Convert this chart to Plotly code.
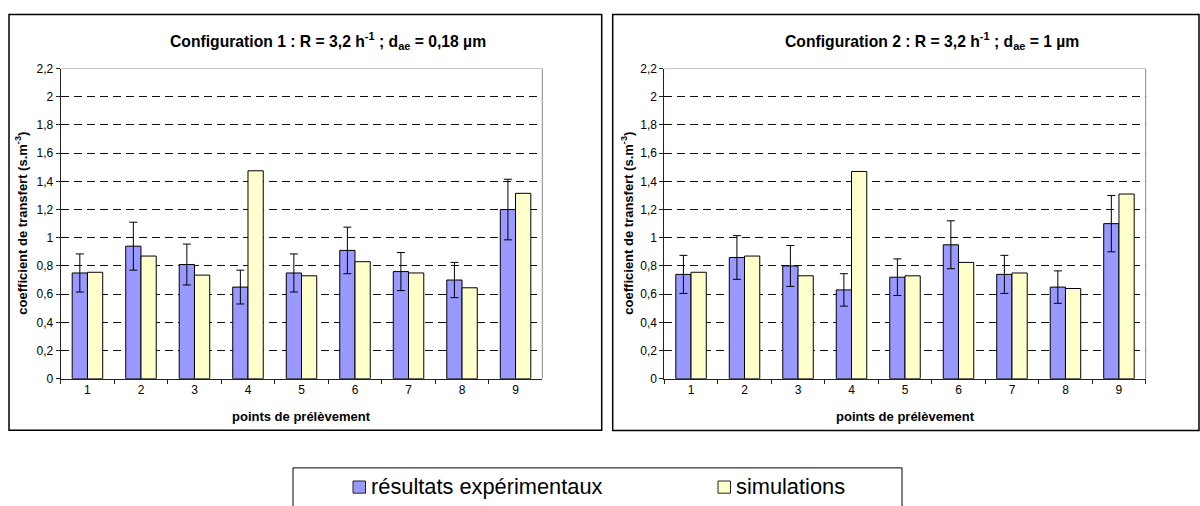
import plotly.graph_objects as go

# ---------------- data ----------------
categories = ["1", "2", "3", "4", "5", "6", "7", "8", "9"]

exp_c1 = [0.75, 0.94, 0.81, 0.65, 0.75, 0.91, 0.76, 0.70, 1.20]
err_c1 = [0.135, 0.17, 0.145, 0.12, 0.135, 0.165, 0.135, 0.125, 0.215]
sim_c1 = [0.755, 0.87, 0.735, 1.475, 0.73, 0.83, 0.75, 0.645, 1.315]

exp_c2 = [0.74, 0.86, 0.80, 0.63, 0.72, 0.95, 0.74, 0.65, 1.10]
err_c2 = [0.135, 0.155, 0.145, 0.115, 0.13, 0.17, 0.135, 0.115, 0.20]
sim_c2 = [0.755, 0.87, 0.73, 1.47, 0.73, 0.825, 0.75, 0.64, 1.31]

y_tickvals = [0, 0.2, 0.4, 0.6, 0.8, 1.0, 1.2, 1.4, 1.6, 1.8, 2.0, 2.2]
y_ticktext = ["0", "0,2", "0,4", "0,6", "0,8", "1", "1,2", "1,4", "1,6", "1,8", "2", "2,2"]

series_names = ["résultats expérimentaux", "simulations"]
series_colors = ["#9999FF", "#FFFFCC"]

titles = [
    "Configuration 1 : R = 3,2 h<sup>-1</sup> ; d<sub>ae</sub> = 0,18 µm",
    "Configuration 2 : R = 3,2 h<sup>-1</sup> ; d<sub>ae</sub> = 1 µm",
]
x_title = "points de prélèvement"
y_title = "coefficient de transfert (s.m<sup>-3</sup>)"

# ---------------- layout helpers ----------------
W, H = 1200, 506
FONT = "Arial, 'Liberation Sans', sans-serif"


def px(x):
    return x / W


def py(y):
    return 1 - y / H


fig = go.Figure()

panels = [
    dict(exp=exp_c1, err=err_c1, sim=sim_c1, xa="x", ya="y"),
    dict(exp=exp_c2, err=err_c2, sim=sim_c2, xa="x2", ya="y2"),
]

for i, p in enumerate(panels):
    fig.add_trace(go.Bar(
        x=categories, y=p["exp"], name=series_names[0],
        marker=dict(color=series_colors[0], line=dict(color="black", width=1)),
        error_y=dict(type="data", array=p["err"], visible=True,
                     color="black", thickness=1, width=4),
        xaxis=p["xa"], yaxis=p["ya"], showlegend=False,
    ))
    fig.add_trace(go.Bar(
        x=categories, y=p["sim"], name=series_names[1],
        marker=dict(color=series_colors[1], line=dict(color="black", width=1)),
        xaxis=p["xa"], yaxis=p["ya"], showlegend=False,
    ))

# geometry (screen pixels)
plot_top, plot_bottom = 63.3, 382.3
x_domains = [(60.7, 542.3), (664.3, 1145.7)]
boxes = [(9, 7.8, 601.7, 435.3), (612.7, 7.8, 1199, 435.5)]
title_cx = [328, 932]
ytitle_cx = [21, 627]

xaxis_common = dict(
    type="category", tickson="boundaries", ticks="outside", ticklen=4,
    tickcolor="#222", showline=True, linecolor="#222", linewidth=1,
    showgrid=False, tickfont=dict(family=FONT, size=12, color="black"),
    fixedrange=True,
)
yaxis_common = dict(
    range=[0, 2.2], tickvals=y_tickvals, ticktext=y_ticktext,
    ticks="outside", ticklen=4, tickcolor="#222",
    showline=True, linecolor="#222", linewidth=1,
    showgrid=True, gridcolor="#111", griddash="8px,5px", gridwidth=1,
    zeroline=False, tickfont=dict(family=FONT, size=12, color="black"),
    fixedrange=True,
)

layout = dict(
    width=W, height=H,
    margin=dict(l=0, r=0, t=0, b=0),
    paper_bgcolor="white", plot_bgcolor="white",
    barmode="group", bargap=0.43, bargroupgap=0,
    showlegend=False,
    font=dict(family=FONT, color="black"),
)
for i in range(2):
    suf = "" if i == 0 else str(i + 1)
    xa = dict(xaxis_common)
    xa["domain"] = [px(x_domains[i][0]), px(x_domains[i][1])]
    xa["anchor"] = "y" + suf
    ya = dict(yaxis_common)
    ya["domain"] = [py(plot_bottom), py(plot_top)]
    ya["anchor"] = "x" + suf
    layout["xaxis" + suf] = xa
    layout["yaxis" + suf] = ya

fig.update_layout(**layout)

shapes = []
annotations = []
for i in range(2):
    suf = "" if i == 0 else str(i + 1)
    x0, y0, x1, y1 = boxes[i]
    shapes.append(dict(type="rect", xref="paper", yref="paper",
                       x0=px(x0), x1=px(x1), y0=py(y1), y1=py(y0),
                       line=dict(color="black", width=1.5), layer="below"))
    # grey top and right frame of plot area
    shapes.append(dict(type="line", xref="x" + suf + " domain", yref="y" + suf,
                       x0=0, x1=1, y0=2.2, y1=2.2,
                       line=dict(color="#888888", width=1)))
    shapes.append(dict(type="line", xref="x" + suf + " domain", yref="y" + suf,
                       x0=1, x1=1, y0=0, y1=2.2,
                       line=dict(color="#888888", width=1)))
    annotations.append(dict(text="<b>" + titles[i] + "</b>", xref="paper", yref="paper",
                            x=px(title_cx[i]), y=py(35), showarrow=False,
                            xanchor="center", yanchor="middle",
                            font=dict(family=FONT, size=15.7, color="black")))
    annotations.append(dict(text="<b>" + x_title + "</b>", xref="paper", yref="paper",
                            x=px((x_domains[i][0] + x_domains[i][1]) / 2), y=py(421.5),
                            showarrow=False, xanchor="center", yanchor="middle",
                            font=dict(family=FONT, size=13, color="black")))
    annotations.append(dict(text="<b>" + y_title + "</b>", xref="paper", yref="paper",
                            x=px(ytitle_cx[i]), y=py((plot_top + plot_bottom) / 2),
                            showarrow=False, textangle=-90,
                            xanchor="center", yanchor="middle",
                            font=dict(family=FONT, size=13, color="black")))

# legend box (manual)
shapes.append(dict(type="rect", xref="paper", yref="paper",
                   x0=px(293), x1=px(902), y0=py(520), y1=py(474),
                   line=dict(color="black", width=1), layer="below"))
legend_marker_x = [353, 718]
for k in range(2):
    mx = legend_marker_x[k]
    shapes.append(dict(type="rect", xref="paper", yref="paper",
                       x0=px(mx), x1=px(mx + 12.5), y0=py(500), y1=py(487.5),
                       fillcolor=series_colors[k],
                       line=dict(color="#222", width=1)))
    annotations.append(dict(text=series_names[k], xref="paper", yref="paper",
                            x=px(mx + 16), y=py(493.5), showarrow=False,
                            xanchor="left", yanchor="middle",
                            font=dict(family=FONT, size=21.8, color="black")))

fig.update_layout(shapes=shapes, annotations=annotations)

# remove the default 8px page margin so the figure fills the window exactly
fig.write_html(
    "out.html",
    config={"displayModeBar": False},
    post_script="document.body.style.margin='0';document.body.style.overflow='hidden';",
)
